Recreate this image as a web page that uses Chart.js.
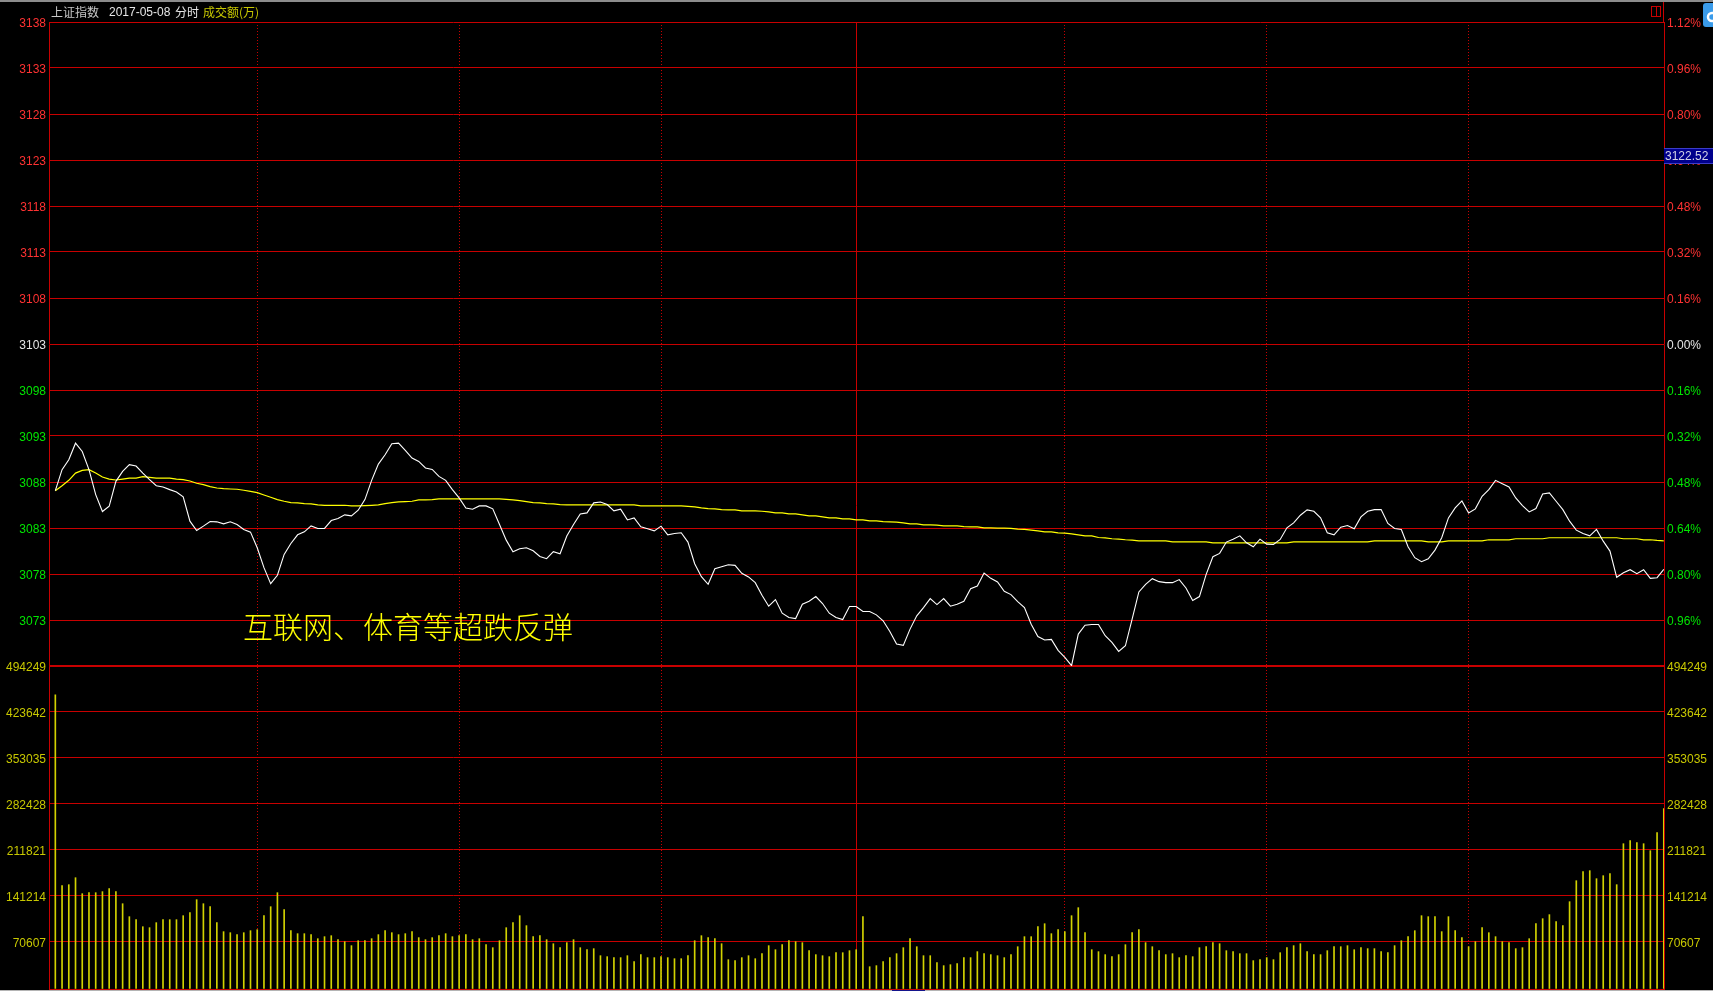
<!DOCTYPE html>
<html><head><meta charset="utf-8">
<style>html,body{margin:0;padding:0;background:#000;overflow:hidden}canvas{display:block}</style>
<script src="https://cdn.jsdelivr.net/npm/chart.js@4"></script>
</head><body><canvas id="c" width="1713" height="991"></canvas>
<script>
const priceTicks=[3138,3133,3128,3123,3118,3113,3108,3103,3098,3093,3088,3083,3078,3073];
const pctLabels=['1.12%','0.96%','0.80%','0.64%','0.48%','0.32%','0.16%','0.00%','0.16%','0.32%','0.48%','0.64%','0.80%','0.96%'];
const volumeTicks=[494249,423642,353035,282428,211821,141214,70607];
const minuteLines=[30,60,90,119,150,180,210];
const annotation='互联网、体育等超跌反弹';
const price=[3087.06,3089.34,3090.42,3092.22,3091.32,3089.34,3086.63,3084.79,3085.36,3088.07,
3089.16,3089.88,3089.73,3088.97,3088.25,3087.60,3087.46,3087.17,3086.92,3086.38,
3083.74,3082.73,3083.20,3083.70,3083.67,3083.45,3083.67,3083.38,3082.84,3082.55,
3080.85,3078.69,3076.95,3077.86,3080.13,3081.32,3082.26,3082.58,3083.23,3082.95,
3082.95,3083.81,3084.03,3084.43,3084.32,3084.93,3086.09,3088.18,3089.95,3090.96,
3092.15,3092.22,3091.43,3090.60,3090.24,3089.52,3089.37,3088.61,3088.18,3087.17,
3086.27,3085.18,3085.04,3085.40,3085.40,3085.08,3083.38,3081.68,3080.42,3080.74,
3080.85,3080.53,3079.91,3079.66,3080.42,3080.20,3082.12,3083.38,3084.53,3084.64,
3085.73,3085.83,3085.55,3084.86,3085.04,3083.88,3084.10,3083.13,3082.91,3082.69,
3083.20,3082.26,3082.40,3082.48,3081.47,3079.12,3077.71,3076.88,3078.58,3078.79,
3079.01,3078.94,3078.07,3077.68,3077.06,3075.69,3074.50,3075.22,3073.74,3073.27,
3073.16,3074.72,3075.04,3075.55,3074.79,3073.74,3073.27,3073.05,3074.46,3074.46,
3073.92,3073.92,3073.56,3072.91,3071.75,3070.38,3070.24,3072.01,3073.45,3074.35,
3075.33,3074.68,3075.33,3074.50,3074.72,3075.04,3076.41,3076.70,3078.11,3077.53,
3077.13,3076.12,3075.76,3075.00,3074.35,3072.55,3071.21,3070.82,3070.89,3069.70,
3068.94,3068.04,3071.47,3072.44,3072.51,3072.51,3071.29,3070.56,3069.59,3070.20,
3073.09,3076.05,3076.88,3077.49,3077.17,3077.06,3077.06,3077.39,3076.48,3075.11,
3075.55,3077.96,3079.88,3080.24,3081.47,3081.79,3082.15,3081.39,3080.96,3081.79,
3081.25,3081.21,3081.75,3083.02,3083.56,3084.39,3084.97,3084.82,3084.10,3082.48,
3082.26,3083.09,3083.27,3082.91,3084.21,3084.82,3085.00,3085.00,3083.49,3082.95,
3082.84,3080.96,3079.77,3079.34,3079.66,3080.60,3081.94,3084.10,3085.18,3085.94,
3084.64,3085.08,3086.45,3087.17,3088.18,3087.82,3087.46,3086.27,3085.44,3084.75,
3085.11,3086.70,3086.81,3085.91,3085.00,3083.74,3082.77,3082.40,3082.15,3082.84,
3081.57,3080.49,3077.64,3078.14,3078.47,3078.04,3078.47,3077.53,3077.60,3078.51];
const average=[3087.06,3087.60,3088.18,3088.97,3089.26,3089.34,3088.97,3088.54,3088.32,3088.22,
3088.32,3088.43,3088.43,3088.58,3088.51,3088.43,3088.43,3088.43,3088.32,3088.25,
3088.11,3087.86,3087.71,3087.49,3087.35,3087.28,3087.24,3087.21,3087.10,3086.99,
3086.84,3086.59,3086.34,3086.09,3085.91,3085.76,3085.73,3085.65,3085.62,3085.51,
3085.47,3085.47,3085.47,3085.47,3085.40,3085.40,3085.44,3085.47,3085.51,3085.65,
3085.76,3085.83,3085.87,3085.91,3086.05,3086.05,3086.09,3086.16,3086.16,3086.16,
3086.16,3086.16,3086.16,3086.16,3086.16,3086.16,3086.16,3086.12,3086.05,3085.98,
3085.87,3085.76,3085.73,3085.65,3085.62,3085.55,3085.51,3085.51,3085.51,3085.51,
3085.51,3085.51,3085.51,3085.51,3085.51,3085.51,3085.51,3085.40,3085.40,3085.40,
3085.40,3085.40,3085.40,3085.40,3085.36,3085.29,3085.18,3085.11,3085.08,3085.00,
3084.97,3084.97,3084.86,3084.86,3084.86,3084.82,3084.75,3084.64,3084.64,3084.53,
3084.53,3084.43,3084.32,3084.32,3084.21,3084.10,3084.10,3083.99,3083.99,3083.88,
3083.88,3083.78,3083.78,3083.70,3083.67,3083.63,3083.56,3083.45,3083.45,3083.34,
3083.34,3083.31,3083.23,3083.23,3083.23,3083.16,3083.13,3083.13,3083.02,3083.02,
3082.98,3082.98,3082.95,3082.87,3082.84,3082.77,3082.69,3082.58,3082.58,3082.48,
3082.44,3082.37,3082.26,3082.15,3082.15,3081.97,3081.93,3081.83,3081.79,3081.72,
3081.68,3081.61,3081.61,3081.61,3081.61,3081.61,3081.50,3081.50,3081.50,3081.50,
3081.50,3081.50,3081.39,3081.39,3081.39,3081.39,3081.39,3081.39,3081.39,3081.39,
3081.39,3081.39,3081.39,3081.39,3081.50,3081.50,3081.50,3081.50,3081.50,3081.50,
3081.50,3081.50,3081.50,3081.50,3081.50,3081.50,3081.61,3081.61,3081.61,3081.61,
3081.61,3081.61,3081.61,3081.61,3081.50,3081.50,3081.50,3081.61,3081.61,3081.61,
3081.61,3081.61,3081.61,3081.72,3081.72,3081.72,3081.72,3081.83,3081.83,3081.83,
3081.83,3081.83,3081.94,3081.94,3081.94,3081.94,3081.94,3081.94,3081.94,3081.94,
3081.94,3081.94,3081.94,3081.83,3081.83,3081.83,3081.72,3081.72,3081.65,3081.61];
const volume=[450000,157100,158600,169300,144800,146300,146300,147900,152500,147900,
129400,109500,104900,94100,92600,100300,104900,104900,104900,111000,
115600,135600,129400,124800,100300,86500,84900,81900,84900,88000,
89500,111000,124800,146300,120200,88000,83400,83400,81900,75700,
78800,80300,74200,71100,65000,72600,72600,75700,81900,88000,
84900,81900,83400,86500,77300,74200,77300,80300,83400,78800,
80300,81900,74200,75700,66500,61900,72600,92600,100300,111000,
95700,78800,80300,74200,68000,61900,69600,74200,61900,58800,
60400,49600,48100,46600,46600,49600,40400,51200,46600,46600,
48100,46600,45000,45000,49600,72600,80300,77300,75700,68000,
43500,42000,46600,49600,45000,52700,65000,58800,66500,72600,
71100,69600,57300,51200,49600,48100,54200,54200,57300,58800,
109500,32700,34300,40400,46600,52700,61900,75700,63400,49600,
49600,38900,34300,35800,37300,46600,46600,55800,52700,51200,
49600,46600,51200,63400,78800,78800,94100,98700,83400,89500,
86500,111000,123300,84900,58800,55800,51200,48100,51200,66500,
84900,89500,69600,63400,57300,51200,52700,46600,49600,48100,
61900,63400,69600,68000,57300,55800,52700,52700,42000,43500,
46600,43500,54200,61900,65000,68000,55800,51200,51200,57300,
63400,63400,65000,58800,61900,60400,60400,55800,54200,65000,
72600,78800,88000,111000,109500,109500,86500,109500,88000,77300,
63400,71100,92600,84900,78800,71100,69600,60400,61900,75700,
98700,106400,112600,101800,95700,132500,164700,178600,180100,167800,
172400,175500,158600,221500,226100,223100,221500,210800,238400,275300];
const xMin=-0.94, xMax=239.03, volBase=-1535;
const RED='#c80000', TXT_RED='#ff3232', TXT_GREEN='#00e600', TXT_WHITE='#e6e6e6', TXT_VOL='#c8c800';
const tickFont={family:'"Liberation Sans",Arial,sans-serif',size:12,lineHeight:0.25};
const lowered=s=>['',s];
const points=a=>a.map((v,i)=>({x:i,y:v}));
const priceColor=v=>v>3103?TXT_RED:(v<3103?TXT_GREEN:TXT_WHITE);
const setTicks=list=>scale=>{scale.ticks=list.map(v=>({value:v}));};
const fitW=scale=>{scale.width=49;scale.paddingTop=0;scale.paddingBottom=0;};

const decor={id:'decor',
 afterDraw(chart){
  const c=chart.ctx;
  c.save();
  c.fillStyle='#8c8c8c';c.fillRect(0,0,1713,2);
  c.fillStyle='#b4b4b4';c.fillRect(0,990,1713,1);
  c.fillStyle='#14148c';c.fillRect(892,990,33,1);
  c.fillStyle=RED;c.fillRect(1663,2,1,20);
  c.strokeStyle=RED;c.lineWidth=1;c.strokeRect(1651.5,6.5,9,10);c.beginPath();c.moveTo(1656.5,6.5);c.lineTo(1656.5,16.5);c.stroke();
  c.fillStyle='#3a9bea';c.beginPath();c.roundRect(1703,3,14,24,3);c.fill();
  c.strokeStyle='#fff';c.lineWidth=2.5;c.beginPath();c.arc(1712,17,4,0,Math.PI*2);c.stroke();
  c.fillStyle='#00008c';c.fillRect(1664,148,49,16);
  c.fillStyle='#3c3cc8';c.fillRect(1664,148,49,1);c.fillRect(1664,163,49,1);
  c.textBaseline='middle';c.textAlign='left';
  c.font='12px "Liberation Sans",Arial,sans-serif';c.fillStyle='#d2d2e6';c.fillText('3122.52',1665,156.5);
  const cjk='12px "Noto Sans CJK SC",sans-serif';
  c.font=cjk;c.fillStyle='#c8c8c8';c.fillText('上证指数',51,12);
  c.font='12px "Liberation Sans",Arial,sans-serif';c.fillStyle='#e6e6e6';c.fillText('2017-05-08',109,12.5);
  c.font=cjk;c.fillText('分时',175,12);
  c.fillStyle=TXT_VOL;c.fillText('成交额(万)',203,12);
  c.restore();
 },
 afterDatasetsDraw(chart){
  const c=chart.ctx,x=chart.scales.x,y=chart.scales.yP;
  c.save();
  c.font='300 30px "Noto Sans CJK SC",sans-serif';c.fillStyle='#ffff00';
  c.textBaseline='middle';c.textAlign='left';
  c.fillText(annotation,x.getPixelForValue(27.9),y.getPixelForValue(3072.3));
  c.restore();
 }};

new Chart(document.getElementById('c'),{
 type:'bar',
 plugins:[decor],
 data:{datasets:[
  {type:'line',data:points(average),yAxisID:'yP',borderColor:'#ffff00',borderWidth:1.2,pointRadius:0,tension:0,order:1},
  {type:'line',data:points(price),yAxisID:'yP',borderColor:'#ffffff',borderWidth:1.1,pointRadius:0,tension:0,order:0},
  {type:'bar',data:points(volume),yAxisID:'yV',backgroundColor:'#d2d200',barThickness:1,base:volBase,order:2}
 ]},
 options:{
  responsive:false,animation:false,devicePixelRatio:1,
  layout:{padding:{top:22,bottom:2,left:0,right:0}},
  plugins:{legend:{display:false},tooltip:{enabled:false},title:{display:false}},
  scales:{
   x:{type:'linear',offset:false,min:xMin,max:xMax,afterBuildTicks:setTicks(minuteLines),
      afterFit:s=>{s.height=0;},
      ticks:{display:false},
      grid:{offset:false,color:RED,lineWidth:1,drawTicks:false},
      border:{display:false,dash:ctx=>ctx.tick&&ctx.tick.value===119?[]:[1,2]}},
   yP:{type:'linear',position:'left',stack:'L',stackWeight:644,weight:2,min:3068,max:3138,
      afterBuildTicks:setTicks(priceTicks),afterFit:fitW,
      grid:{color:RED,lineWidth:1,drawTicks:false},border:{color:RED},
      ticks:{autoSkip:false,padding:3,font:tickFont,color:ctx=>priceColor(ctx.tick.value),callback:v=>lowered(String(v))}},
   yV:{type:'linear',position:'left',stack:'L',stackWeight:323,weight:1,min:volBase,max:494249,
      afterBuildTicks:setTicks([volBase].concat(volumeTicks.slice().reverse())),afterFit:fitW,
      grid:{color:RED,lineWidth:ctx=>ctx.tick&&ctx.tick.value===494249?2:1,drawTicks:false},border:{color:RED},
      ticks:{autoSkip:false,padding:3,font:tickFont,color:TXT_VOL,callback:v=>v===volBase?'':lowered(String(v))}},
   yR:{type:'linear',position:'right',stack:'R',stackWeight:644,weight:1,min:3068,max:3138,
      afterBuildTicks:setTicks(priceTicks),afterFit:fitW,
      grid:{display:false,drawTicks:false},border:{color:RED},
      ticks:{autoSkip:false,padding:3,font:tickFont,color:ctx=>priceColor(ctx.tick.value),callback:v=>lowered(pctLabels[priceTicks.indexOf(v)])}},
   yVR:{type:'linear',position:'right',stack:'R',stackWeight:323,weight:2,min:volBase,max:494249,
      afterBuildTicks:setTicks([volBase].concat(volumeTicks.slice().reverse())),afterFit:fitW,
      grid:{display:false,drawTicks:false},border:{color:RED},
      ticks:{autoSkip:false,padding:3,font:tickFont,color:TXT_VOL,callback:v=>v===volBase?'':lowered(String(v))}}
  }
 }
});
</script></body></html>
